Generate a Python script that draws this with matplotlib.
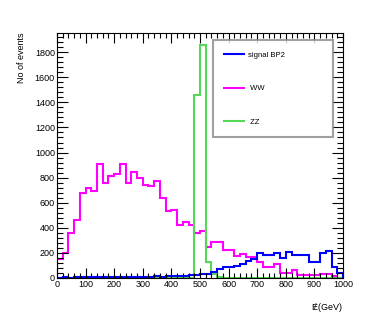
import numpy as np
import matplotlib
matplotlib.use('Agg')
import matplotlib.pyplot as plt
from matplotlib.ticker import MultipleLocator

plt.rcParams['font.family'] = ['Liberation Sans', 'DejaVu Sans']
plt.rcParams['mathtext.fontset'] = 'custom'
plt.rcParams['mathtext.rm'] = 'Liberation Sans'
plt.rcParams['mathtext.it'] = 'Liberation Sans'

# bin edges: 50 bins of 20 GeV
edges = np.arange(0, 1001, 20)

# signal BP2
signal_bp2 = [3, 4, 3, 5, 4, 5, 6, 5, 6, 7,
              6, 8, 7, 9, 8, 10, 9, 12, 10, 12,
              12, 15, 15, 20, 20, 28, 35, 50, 70, 90,
              90, 95, 110, 135, 150, 195, 185, 180, 200, 160,
              205, 180, 185, 185, 130, 130, 195, 215, 90, 40]

# WW background
ww = [155, 200, 355, 465, 675, 715, 695, 905, 755, 815,
      825, 910, 760, 845, 795, 745, 730, 775, 635, 535,
      540, 420, 445, 420, 360, 375, 250, 290, 290, 225,
      225, 178, 190, 170, 168, 130, 85, 85, 110, 42,
      42, 63, 24, 24, 20, 20, 35, 35, 14, 0]

# ZZ background
zz = [0] * 24 + [1460, 1860, 125, 35, 8] + [2] * 21

fig = plt.figure(figsize=(3.82, 3.27), dpi=100)
ax = fig.add_axes([0.149, 0.150, 0.749, 0.749])

lw = 1.5
ax.stairs(ww, edges, baseline=0, color='#ff00ff', lw=lw, label=' WW')
ax.stairs(zz, edges, baseline=0, color='#55d855', lw=lw, label=' ZZ')
ax.stairs(signal_bp2, edges, baseline=0, color='#0000ff', lw=lw, label='signal BP2')

ax.set_xlim(0, 1000)
ax.set_ylim(0, 1953)

ax.xaxis.set_major_locator(MultipleLocator(100))
ax.xaxis.set_minor_locator(MultipleLocator(20))
ax.yaxis.set_major_locator(MultipleLocator(200))
ax.yaxis.set_minor_locator(MultipleLocator(40))
ax.tick_params(which='both', direction='in', top=True, right=True,
               labelsize=6.5, width=0.8, colors='black')
ax.tick_params(axis='x', which='major', length=7, pad=1.5)
ax.tick_params(axis='x', which='minor', length=3.5)
ax.tick_params(axis='y', which='major', length=8, pad=1.5)
ax.tick_params(axis='y', which='minor', length=4)
for s in ax.spines.values():
    s.set_linewidth(0.8)

fig.text(0.055, 0.900, 'No of events', rotation=90, ha='center', va='top',
         fontsize=6.5)
fig.text(0.898, 0.060, r'$/\!\!\!\!\mathrm{E}$(GeV)', ha='right', va='center',
         fontsize=6.5)

handles, labels = ax.get_legend_handles_labels()
order = [2, 0, 1]
leg = ax.legend([handles[i] for i in order], [labels[i] for i in order],
                loc='upper left', bbox_to_anchor=(0.545, 0.576, 0.42, 0.395),
                mode='expand', fontsize=5.5, frameon=True, fancybox=False,
                handlelength=2.6, handletextpad=0.5, labelspacing=3.45,
                borderpad=1.45, borderaxespad=0)
leg.get_frame().set_edgecolor('#888888')
leg.get_frame().set_linewidth(1.5)
for h in leg.legend_handles:
    h.set_linewidth(1.5)

fig.savefig('out.png', dpi=100)
